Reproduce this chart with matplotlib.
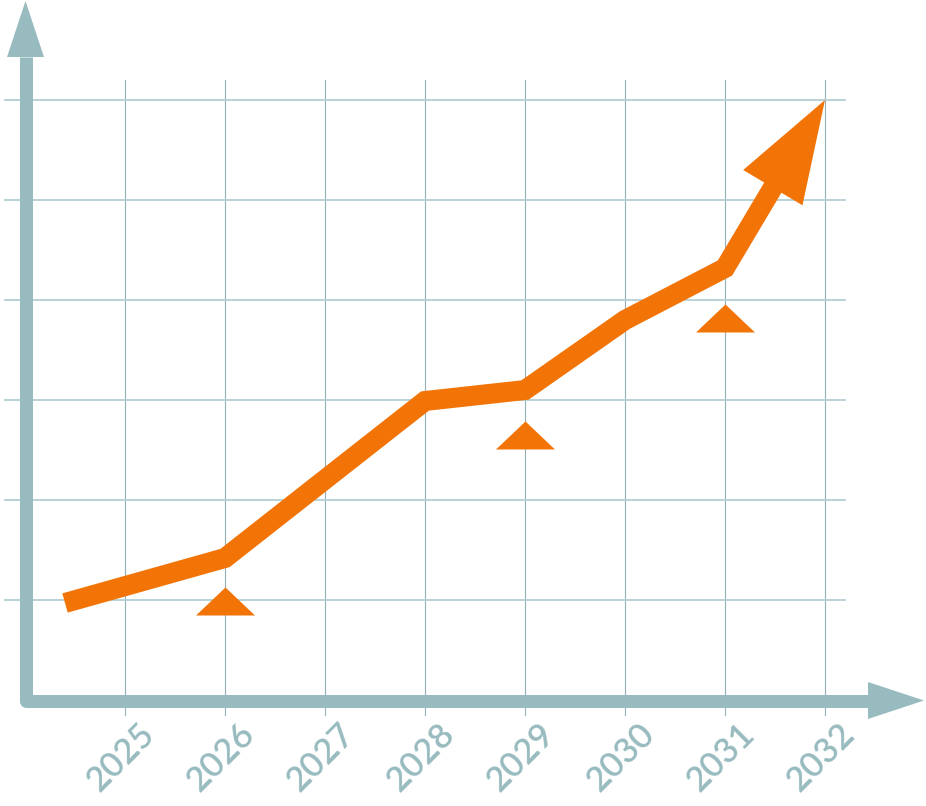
import matplotlib
matplotlib.use("Agg")
import matplotlib.pyplot as plt
import numpy as np
from matplotlib.path import Path
from matplotlib.patches import Polygon

# data
years = [2025, 2026, 2027, 2028, 2029, 2030, 2031, 2032]
grid_vals = [1, 2, 3, 4, 5, 6]
line_x = [2024.40, 2026, 2028, 2029, 2030, 2031, 2032]
line_y = [0.97, 1.42, 2.99, 3.10, 3.80, 4.32, 6.00]
mark_x = [2026, 2029, 2031]
mark_y = [0.85, 2.51, 3.68]

orange = "#F27406"
axis_c = "#98BBBF"
vgrid_c = "#93AEB5"
hgrid_c = "#B3CFD2"

fig = plt.figure(figsize=(9.26, 8.06), dpi=100)
ax = fig.add_axes([0, 0, 1, 1])
ax.set_xlim(2023.75, 2033.01)
ax.set_ylim(-1.06, 7.0)
ax.axis("off")

px = 72 / 100  # points per pixel

# grid
for yr in years:
    ax.plot([yr, yr], [-0.15, 6.2], color=vgrid_c, lw=1.1 * px, zorder=1)
for v in grid_vals:
    ax.plot([2023.80, 2032.20], [v, v], color=hgrid_c, lw=1.8 * px, zorder=1)


def to_data(pts):
    return ax.transData.inverted().transform(pts)


def head(tip, prev, length, width, color, z):
    # arrow head polygon built in pixel space from the last segment
    t = ax.transData.transform(tip)
    p = ax.transData.transform(prev)
    u = (t - p) / np.hypot(*(t - p))
    n = np.array([-u[1], u[0]])
    base = t - u * length
    poly = to_data([t, base + n * width / 2, base - n * width / 2])
    ax.add_patch(Polygon(poly, closed=True, color=color, lw=0, zorder=z))
    return to_data([base + u * 2])[0]


# axes with arrows
ax_x0, ax_y0 = 2024.005, -0.005
ax_ytop, ax_xend = 6.43, 2032.45
ax.plot([ax_x0, ax_x0, ax_xend], [ax_ytop, ax_y0, ax_y0], color=axis_c,
        lw=13 * px, solid_joinstyle="round", solid_capstyle="butt", zorder=4)
head((ax_x0, 6.99), (ax_x0, 0), 56, 37, axis_c, 4)
head((2032.99, ax_y0), (2024, ax_y0), 56, 37, axis_c, 4)

# orange trend line with arrow head
bx, by = head((line_x[-1], line_y[-1]), (line_x[-2], line_y[-2]), 102, 69, orange, 3)
ax.plot(line_x[:-1] + [bx], line_y[:-1] + [by], color=orange, lw=20 * px,
        solid_joinstyle="miter", solid_capstyle="butt", zorder=3)

# flat triangle markers
tri = Path([(-1, 0), (1, 0), (0, 0.95), (-1, 0)],
           [Path.MOVETO, Path.LINETO, Path.LINETO, Path.CLOSEPOLY])
ax.plot(mark_x, mark_y, ls="none", marker=tri, markersize=59 * px,
        color=orange, markeredgewidth=0, zorder=3)

# tick labels
for yr in years:
    ax.text(yr - 0.04, -0.57, str(yr), rotation=45, rotation_mode="anchor",
            ha="center", va="center", color=axis_c, fontsize=25,
            fontweight="semibold", family=["Lato", "DejaVu Sans"])

fig.savefig("out.png", dpi=100)
